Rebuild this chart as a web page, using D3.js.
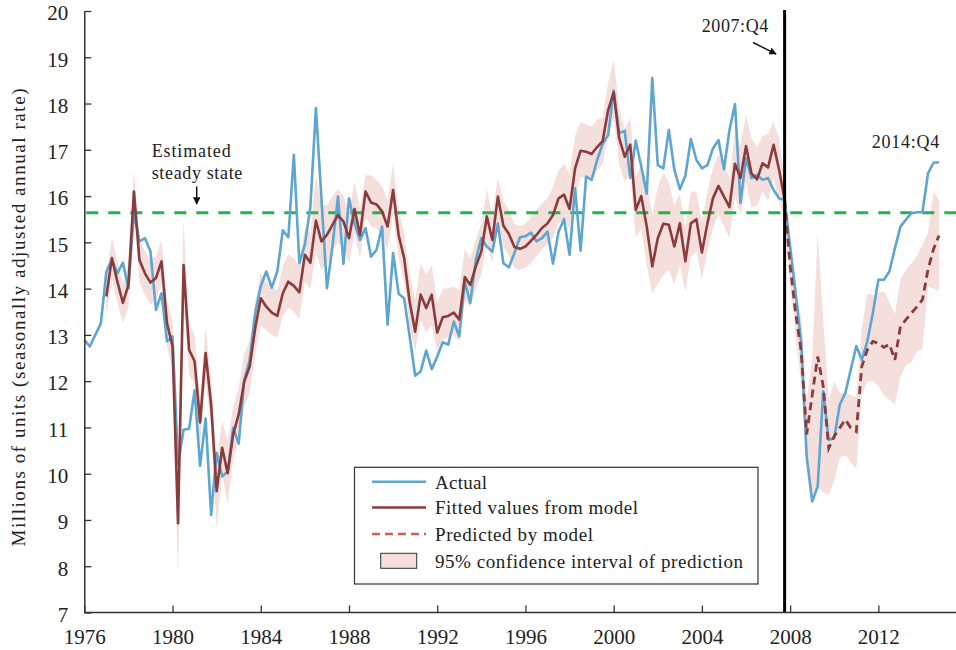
<!DOCTYPE html>
<html><head><meta charset="utf-8">
<script src="https://cdn.jsdelivr.net/npm/d3@7"></script>
<style>
html,body{margin:0;padding:0;background:#fff;}
text{font-family:"Liberation Serif","DejaVu Serif",serif;fill:#222;}
</style></head>
<body><svg id="chart" width="956" height="650"></svg>
<script>
// ---- data (quarterly, millions of units, SAAR) ----
const actualStart = 1976;      // 1976:Q1 .. 2014:Q4
const actual = [12.89,12.75,13.00,13.25,14.37,14.62,14.33,14.56,14.01,15.65,15.02,15.09,14.80,13.54,13.90,12.86,
12.97,10.20,10.95,10.97,11.80,10.17,11.19,9.11,10.45,9.94,10.05,10.99,10.65,12.03,12.46,13.48,
14.05,14.37,14.02,14.37,15.26,15.11,16.89,14.55,14.95,15.77,17.90,15.95,14.01,14.91,15.99,14.54,
15.95,15.41,15.05,15.31,14.69,14.84,15.34,13.22,14.77,13.89,13.79,12.97,12.12,12.21,12.66,12.26,
12.53,12.84,12.79,13.29,12.97,14.15,13.69,14.62,15.09,14.91,14.80,15.41,14.55,14.46,14.77,15.11,
15.13,15.21,15.02,15.09,15.23,14.54,15.23,15.50,14.73,16.17,14.82,16.42,16.35,16.78,17.13,17.32,
18.28,17.36,17.41,16.39,17.20,16.64,16.05,18.55,16.67,16.60,17.43,16.57,16.15,16.44,17.23,16.78,
16.60,16.67,17.03,17.21,16.58,17.43,17.99,15.85,16.82,16.39,16.46,16.35,16.39,16.13,15.95,15.92,
14.91,13.90,12.85,10.37,9.40,9.73,11.78,10.73,10.77,11.49,11.74,12.25,12.76,12.46,12.86,13.47,
14.19,14.19,14.37,14.87,15.34,15.49,15.63,15.65,15.65,16.49,16.72,16.73];

const fittedStart = 1977;      // 1977:Q1 .. 2007:Q4
const fitted = [13.83,14.66,14.15,13.69,14.08,16.10,14.62,14.33,14.13,14.23,14.59,13.25,
12.75,8.93,14.51,12.68,12.43,11.11,12.61,11.49,9.62,10.56,10.01,10.85,11.28,11.99,12.32,13.15,
13.79,13.61,13.48,13.41,13.90,14.15,14.06,13.92,14.73,14.56,15.47,15.02,15.16,15.38,15.59,15.45,
15.09,15.72,15.16,16.10,15.86,15.82,15.67,15.34,16.13,15.16,14.66,13.72,13.07,13.87,13.58,13.87,
13.05,13.38,13.41,13.48,13.33,14.25,14.08,14.48,14.80,15.56,15.05,15.99,15.36,15.18,14.90,14.86,
14.91,15.03,15.16,15.31,15.41,15.59,15.95,16.03,15.72,16.60,16.98,16.96,16.91,17.06,17.19,17.86,
18.24,17.25,16.85,17.11,15.70,16.00,15.34,14.48,15.09,15.40,15.38,14.91,15.41,14.59,15.41,15.50,
14.78,15.41,15.95,16.22,15.99,15.76,16.70,16.39,17.08,16.49,16.36,16.71,16.62,17.11,16.57,15.92];

const predictedStart = 2007.75; // 2007:Q4 .. 2014:Q4
const predicted = [15.92,14.48,13.47,12.65,10.85,11.70,12.53,11.89,10.55,10.81,10.99,11.17,10.99,10.91,
12.32,12.68,12.86,12.82,12.73,12.80,12.46,13.18,13.33,13.47,13.61,13.76,14.41,14.85,15.15];

const ciStart = 1977;          // 1977:Q1 .. 2014:Q4
const ciLower = [13.40,14.20,13.70,13.25,13.60,15.60,14.15,13.85,13.65,13.75,14.10,12.75,
12.25,7.75,13.70,12.15,11.90,10.60,12.05,10.95,8.80,10.00,9.35,10.30,10.70,11.45,11.75,12.60,
13.20,13.10,13.00,12.95,13.40,13.60,13.50,13.35,14.15,14.00,14.80,14.40,14.55,14.80,15.00,14.90,
14.55,15.20,14.65,15.55,15.35,15.30,15.15,14.85,15.60,14.65,14.15,13.20,12.65,13.30,13.05,13.20,
12.65,12.90,12.95,13.00,12.85,13.75,13.60,14.00,14.30,15.05,14.55,15.50,14.90,14.70,14.45,14.40,
14.45,14.55,14.70,14.85,14.95,15.10,15.40,15.50,15.30,16.00,16.40,16.40,16.35,16.55,16.70,17.30,
17.70,16.70,16.30,16.50,15.10,15.30,14.50,13.90,14.10,14.30,14.40,14.10,14.50,13.95,14.70,14.80,
14.20,14.80,15.30,15.60,15.35,15.10,16.00,15.60,16.30,15.75,15.80,16.10,15.90,16.40,15.85,15.55,
14.10,13.00,11.95,10.35,9.55,9.70,9.60,9.55,9.85,10.35,10.40,10.25,10.10,11.70,12.00,12.00,
11.90,11.70,11.60,11.50,12.10,12.35,12.40,12.65,12.70,14.05,14.00,13.95];
const ciUpper = [14.30,15.10,14.60,14.10,14.55,16.55,15.10,14.80,14.60,14.70,15.05,13.75,
13.30,9.90,15.45,13.25,13.00,11.65,13.15,12.05,10.25,11.15,10.70,11.45,11.85,12.60,12.90,13.70,
14.35,14.15,14.05,13.95,14.50,14.75,14.65,14.50,15.35,15.20,16.45,15.80,15.80,16.00,16.15,16.00,
15.65,16.30,15.75,16.45,16.45,16.35,16.20,15.90,16.70,15.70,15.20,14.30,13.75,14.55,14.30,14.50,
13.70,14.00,14.00,14.05,13.95,14.85,14.65,15.05,15.40,16.15,15.60,16.40,15.90,15.70,15.40,15.35,
15.40,15.55,15.70,15.85,15.95,16.20,16.55,16.70,16.50,17.30,17.60,17.55,17.50,17.65,17.70,18.45,
18.95,17.90,17.45,17.70,16.40,16.70,16.30,15.60,16.20,16.50,16.30,15.80,16.05,15.30,16.10,16.10,
15.45,16.10,16.60,16.90,16.70,16.40,17.40,17.10,17.75,17.25,17.05,17.30,17.35,17.60,17.25,16.40,
14.90,13.95,13.40,11.60,12.50,15.20,13.35,11.60,12.00,11.75,11.75,11.70,11.65,13.15,13.90,13.85,
13.90,13.95,13.70,13.45,14.20,14.40,14.55,14.70,14.95,15.20,16.10,15.90];

const steadyState = 15.64;
const breakDate = 2007.75;
const yTicks = [7,8,9,10,11,12,13,14,15,16,17,18,19,20];
const xTicks = [1976,1980,1984,1988,1992,1996,2000,2004,2008,2012];
const legendLabels = ["Actual","Fitted values from model","Predicted by model","95% confidence interval of prediction"];
const legendWidths = [52,203,158,308];

// ---- scales ----
const svg = d3.select("#chart");
const x = d3.scaleLinear().domain([1976, 2015.52]).range([84.3, 956]);
const y = d3.scaleLinear().domain([7, 20]).range([612.5, 11]);
const toPts = (arr, start) => arr.map((v,i)=>({t:start+i/4, v}));

const C = {blue:"#5ea5cf", red:"#8a3b3c", redLight:"#cf5f5a", band:"#f4dfdd", green:"#27b04f", axis:"#333"};

// band
const band = ciLower.map((lo,i)=>({t:ciStart+i/4, lo, hi:ciUpper[i]}));
svg.append("path").datum(band)
  .attr("d", d3.area().x(d=>x(d.t)).y0(d=>y(d.lo)).y1(d=>y(d.hi)))
  .attr("fill", C.band);

// steady state
svg.append("line").attr("x1", x(1976)+2).attr("x2", 956)
  .attr("y1", y(steadyState)).attr("y2", y(steadyState))
  .attr("stroke", C.green).attr("stroke-width", 3).attr("stroke-dasharray","12,10");

const line = d3.line().x(d=>x(d.t)).y(d=>y(d.v));
svg.append("path").datum(toPts(actual, actualStart)).attr("d", line)
  .attr("fill","none").attr("stroke", C.blue).attr("stroke-width", 2.6).attr("stroke-linejoin","round");
svg.append("path").datum(toPts(fitted, fittedStart)).attr("d", line)
  .attr("fill","none").attr("stroke", C.red).attr("stroke-width", 2.6).attr("stroke-linejoin","round");
svg.append("path").datum(toPts(predicted, predictedStart)).attr("d", line)
  .attr("fill","none").attr("stroke", C.red).attr("stroke-width", 2.8).attr("stroke-dasharray","8,5");

// break line
svg.append("line").attr("x1", x(breakDate)).attr("x2", x(breakDate))
  .attr("y1", 10).attr("y2", 612).attr("stroke", "#000").attr("stroke-width", 3);

// axes
const gx = svg.append("g").attr("transform", `translate(0,${y(7)})`)
  .call(d3.axisBottom(x).tickValues(xTicks).tickFormat(d3.format("d")).tickSizeInner(-7).tickSizeOuter(0).tickPadding(17));
const gy = svg.append("g").attr("transform", `translate(${x(1976)},0)`)
  .call(d3.axisLeft(y).tickValues(yTicks).tickSizeInner(-7).tickSizeOuter(0).tickPadding(16));
[gx,gy].forEach(g=>{
  g.select(".domain").attr("stroke", C.axis).attr("stroke-width", 1.5);
  g.selectAll(".tick line").attr("stroke", C.axis).attr("stroke-width", 1.3);
  g.selectAll("text").attr("font-family","Liberation Serif, serif").attr("fill","#222");
});
gx.selectAll("text").attr("font-size", 21);
gy.selectAll("text").attr("font-size", 21).attr("dy","0.42em");
gx.select(".domain").attr("d", `M${x(1976)},0H956`);

// y title
svg.append("text").attr("transform", `translate(25,317.5) rotate(-90)`)
  .attr("text-anchor","middle").attr("font-size", 19)
  .attr("textLength", 458).attr("lengthAdjust","spacing")
  .text("Millions of units (seasonally adjusted annual rate)");

// annotations
const defs = svg.append("defs");
defs.append("marker").attr("id","arr").attr("viewBox","0 0 10 10").attr("refX",9).attr("refY",5)
  .attr("markerWidth",5).attr("markerHeight",5).attr("orient","auto")
  .append("path").attr("d","M0,0L10,5L0,10z").attr("fill","#111");

const note = (tx, ty, str, w) => svg.append("text").attr("x", tx).attr("y", ty).attr("font-size", 18)
  .attr("textLength", w).attr("lengthAdjust","spacing").text(str);
note(701.7, 31.5, "2007:Q4", 66.6);
note(871.7, 147.7, "2014:Q4", 67.6);
note(151.7, 156.7, "Estimated", 79);
note(151.7, 179.3, "steady state", 90.6);
svg.append("line").attr("x1",753).attr("y1",42.5).attr("x2",776).attr("y2",54)
  .attr("stroke","#111").attr("stroke-width",1.5).attr("marker-end","url(#arr)");
svg.append("line").attr("x1",196.7).attr("y1",186.5).attr("x2",196.7).attr("y2",204)
  .attr("stroke","#111").attr("stroke-width",1.5).attr("marker-end","url(#arr)");

// legend
const lg = svg.append("g");
lg.append("rect").attr("x",354.5).attr("y",467.3).attr("width",403.5).attr("height",116.7)
  .attr("fill","#fff").attr("stroke","#333").attr("stroke-width",1.2);
const rows = [481.7,507.5,534,561];
const styles = [
  {type:"line", stroke:C.blue, dash:null},
  {type:"line", stroke:C.red, dash:null},
  {type:"line", stroke:C.redLight, dash:"8,5"},
  {type:"rect"}
];
legendLabels.forEach((lab,i)=>{
  const s = styles[i], yy = rows[i];
  if (s.type==="line") {
    lg.append("line").attr("x1",372).attr("x2",426).attr("y1",yy).attr("y2",yy)
      .attr("stroke",s.stroke).attr("stroke-width",2.6).attr("stroke-dasharray",s.dash);
  } else {
    lg.append("rect").attr("x",380.7).attr("y",553.3).attr("width",36).attr("height",15)
      .attr("fill",C.band).attr("stroke","#333").attr("stroke-width",1);
  }
  lg.append("text").attr("x",435).attr("y",yy+6.8).attr("font-size",19)
    .attr("textLength", legendWidths[i]).attr("lengthAdjust","spacing").text(lab);
});
</script></body></html>
